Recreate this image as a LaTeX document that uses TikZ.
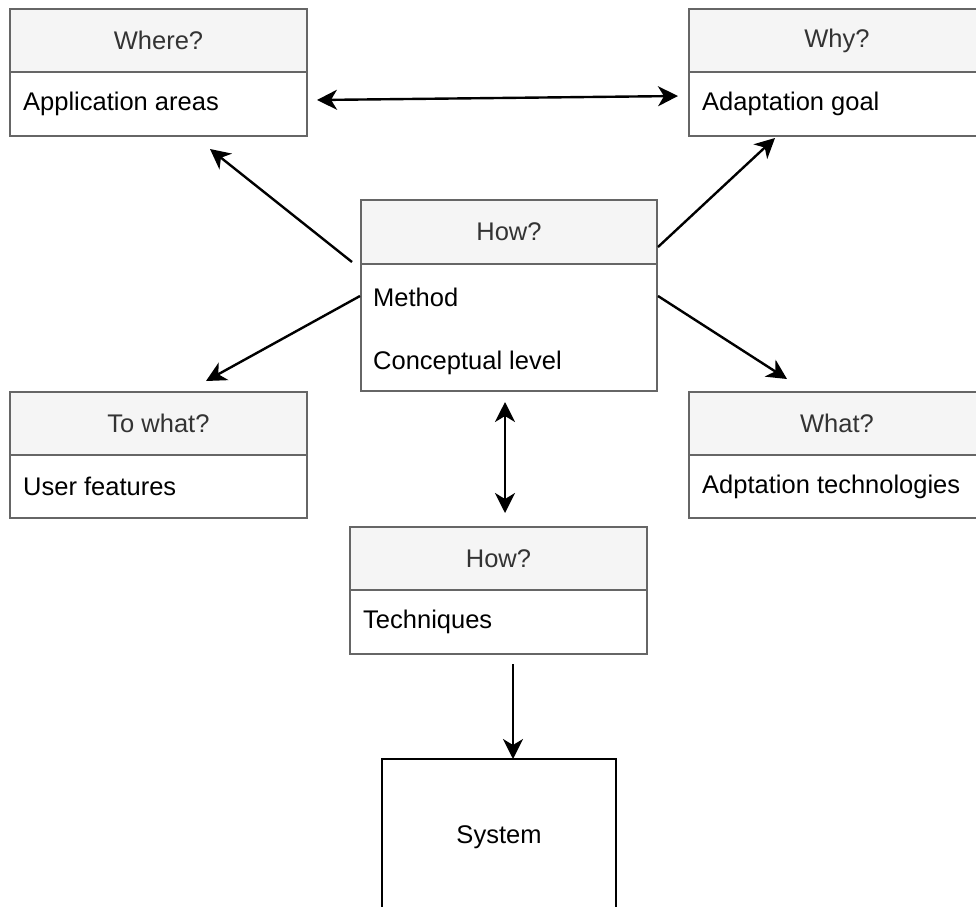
\documentclass[tikz,border=0pt]{standalone}
\usepackage{fontspec}
\setmainfont{Liberation Sans}
\usetikzlibrary{arrows.meta,calc}
\definecolor{hdrfill}{HTML}{F5F5F5}
\definecolor{edge}{HTML}{666666}
\definecolor{hdrtext}{HTML}{333333}
\tikzset{
  txt/.style={font=\fontsize{25.5}{28}\selectfont},
  hdr/.style={draw=edge, fill=hdrfill, line width=2pt, text=hdrtext,
    minimum width=297pt, minimum height=63pt, anchor=north west,
    inner sep=0pt, outer sep=0pt, txt},
  bodybox/.style={draw=edge, fill=white, line width=2pt,
    minimum width=297pt, anchor=north west, inner sep=0pt, outer sep=0pt},
  lbl/.style={anchor=west, inner sep=0pt, txt},
  tip/.tip={Stealth[length=20pt,width=20pt,inset=6pt]},
  link/.style={line width=2.4pt, -tip},
  dlink/.style={line width=2.4pt, tip-tip}
}
\begin{document}
\begin{tikzpicture}[x=1pt,y=-1pt]
\useasboundingbox (0,0) rectangle (976,906);
\clip (0,0) rectangle (976,906);
\fill[white] (0,0) rectangle (976,906);

% Where?
\node[hdr] (whereh) at (10,9) {Where?};
\node[bodybox, minimum height=64pt] (whereb) at (whereh.south west) {};
\node[lbl] (wheret) at ([xshift=13pt]whereb.west) {Application areas};

% Why?
\node[hdr, minimum width=296pt] (whyh) at (689,9) {Why?};
\node[bodybox, minimum width=296pt, minimum height=64pt] (whyb) at (whyh.south west) {};
\node[lbl] (whyt) at ([xshift=13pt]whyb.west) {Adaptation goal};

% How? (method)
\node[hdr, minimum width=296pt, minimum height=64pt] (howh) at (361,200) {How?};
\node[bodybox, minimum width=296pt, minimum height=127pt] (howb) at (howh.south west) {};
\node[lbl] (howt1) at ($(howb.north west)+(12,33)$) {Method};
\node[lbl] (howt2) at ($(howb.north west)+(12,99)$) {Conceptual level};

% To what?
\node[hdr] (towhath) at (10,392) {To what?};
\node[bodybox, minimum height=63pt] (towhatb) at (towhath.south west) {};
\node[lbl] (towhatt) at ([xshift=13pt]towhatb.west) {User features};

% What?
\node[hdr, minimum width=296pt] (whath) at (689,392) {What?};
\node[bodybox, minimum width=296pt, minimum height=63pt] (whatb) at (whath.south west) {};
\node[lbl] (whatt) at ([xshift=13pt]whatb.west) {Adptation technologies};

% How? (techniques)
\node[hdr] (techh) at (350,527) {How?};
\node[bodybox, minimum height=64pt] (techb) at (techh.south west) {};
\node[lbl] (techt) at ([xshift=13pt]techb.west) {Techniques};

% System
\node[draw=black, line width=2pt, minimum width=234pt, minimum height=156pt,
  anchor=north west, inner sep=0pt, outer sep=0pt, txt] (sys) at (382,759) {System};

% connector end points
\coordinate (wy1) at ($(whereb.east)+(10,-4)$);
\coordinate (wy2) at ($(whyb.west)+(-11,-8)$);
\coordinate (hw1) at ($(howh.south west)+(-9,-2)$);
\coordinate (hw2) at ($(whereb.south west)+(200,13)$);
\coordinate (hy1) at ($(howh.south east)+(1,-17)$);
\coordinate (hy2) at ($(whyb.south west)+(86,2)$);
\coordinate (ht1) at ($(howb.north west)+(-1,32)$);
\coordinate (ht2) at ($(towhath.north west)+(196,-11)$);
\coordinate (hwt1) at ($(howb.north east)+(1,32)$);
\coordinate (hwt2) at ($(whath.north west)+(98,-13)$);
\coordinate (tc1) at ($(howb.south west)+(144,11)$);
\coordinate (tc2) at ($(techh.north west)+(155,-14)$);
\coordinate (ts1) at ($(techb.south west)+(163,10)$);

\draw[dlink] (wy1) -- (wy2);
\draw[link] (hw1) -- (hw2);
\draw[link] (hy1) -- (hy2);
\draw[link] (ht1) -- (ht2);
\draw[link] (hwt1) -- (hwt2);
\draw[dlink] (tc1) -- (tc2);
\draw[link] (ts1) -- (sys.north -| ts1);
\end{tikzpicture}
\end{document}
